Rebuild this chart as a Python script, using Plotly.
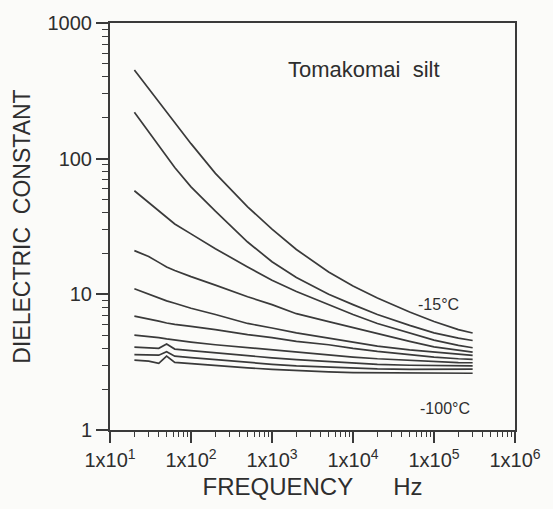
import plotly.graph_objects as go

# Frequencies (Hz) at which each curve is read
freq = [20, 30, 40, 50, 63, 100, 200, 500, 1e3, 2e3, 5e3, 1e4, 2e4, 5e4, 1e5, 2e5, 3e5]

# Dielectric constant curves, from -15 C (top) down to -100 C (bottom)
c1 = [451, 329, 262, 221, 185, 129, 78, 44.2, 30.2, 21.4, 14.6, 11.5, 9.4, 7.4, 6.3, 5.5, 5.19]
c2 = [220, 158, 125, 104, 86, 62, 41, 24.3, 17.4, 13.3, 10.0, 8.4, 7.1, 5.9, 5.2, 4.75, 4.57]
c3 = [58, 47.5, 41.3, 36.9, 33, 27.9, 21.7, 15.9, 12.7, 10.5, 8.4, 7.1, 6.1, 5.2, 4.6, 4.2, 4.04]
c4 = [21, 19, 17.2, 15.9, 15, 13.5, 11.7, 9.6, 8.4, 7.2, 6.3, 5.7, 5.1, 4.5, 4.1, 3.85, 3.75]
c5 = [11, 10, 9.4, 8.95, 8.6, 7.9, 7.1, 6.1, 5.65, 5.2, 4.75, 4.45, 4.15, 3.9, 3.75, 3.6, 3.55]
c6 = [6.9, 6.6, 6.35, 6.15, 6.0, 5.8, 5.5, 5.05, 4.8, 4.5, 4.25, 4.0, 3.8, 3.6, 3.45, 3.35, 3.32]
c7 = [5.0, 4.9, 4.8, 4.7, 4.6, 4.45, 4.25, 4.05, 3.9, 3.75, 3.55, 3.45, 3.35, 3.25, 3.18, 3.14, 3.13]
c8 = [4.08, 4.05, 4.0, 4.3, 3.95, 3.85, 3.7, 3.5, 3.4, 3.3, 3.2, 3.12, 3.05, 3.0, 2.98, 2.97, 2.97]
c9 = [3.6, 3.58, 3.56, 3.77, 3.5, 3.42, 3.3, 3.15, 3.05, 2.97, 2.9, 2.85, 2.82, 2.8, 2.8, 2.81, 2.81]
c10 = [3.27, 3.22, 3.1, 3.5, 3.15, 3.08, 2.98, 2.87, 2.8, 2.74, 2.68, 2.65, 2.64, 2.63, 2.62, 2.62, 2.62]
curves = [c1, c2, c3, c4, c5, c6, c7, c8, c9, c10]

x_tickvals = [1e1, 1e2, 1e3, 1e4, 1e5, 1e6]
x_ticktext = ["1x10<sup>1</sup>", "1x10<sup>2</sup>", "1x10<sup>3</sup>",
              "1x10<sup>4</sup>", "1x10<sup>5</sup>", "1x10<sup>6</sup>"]
y_tickvals = [1, 10, 100, 1000]
y_ticktext = ["1", "10", "100", "1000"]

ink = "#3a3a3a"
txt = "#2e2e2e"
font = "Liberation Sans, Arial, sans-serif"

fig = go.Figure()
for c in curves:
    fig.add_trace(go.Scatter(x=freq, y=c, mode="lines",
                             line=dict(color=ink, width=1.7),
                             showlegend=False, hoverinfo="skip"))

fig.update_layout(
    width=553, height=509,
    margin=dict(l=110, r=34, t=19, b=79),
    paper_bgcolor="#fbfbf9", plot_bgcolor="#fbfbf9",
    font=dict(family=font, color=txt),
    showlegend=False,
)

fig.update_xaxes(
    type="log", range=[1, 6],
    showgrid=False, zeroline=False,
    showline=True, linecolor=ink, linewidth=2, mirror=True,
    tickmode="array", tickvals=x_tickvals, ticktext=x_ticktext,
    ticks="outside", ticklen=11, tickwidth=1.6, tickcolor=ink,
    tickfont=dict(size=20, family=font, color=txt),
    minor=dict(dtick="D1", ticks="outside",
               ticklen=5, tickwidth=1.4, tickcolor=ink, showgrid=False),
    title=dict(text="FREQUENCY" + "\u00a0" * 6 + "Hz",
               font=dict(size=24, family=font, color=txt), standoff=8),
)

fig.update_yaxes(
    type="log", range=[0, 3],
    showgrid=False, zeroline=False,
    showline=True, linecolor=ink, linewidth=2, mirror=True,
    tickmode="array", tickvals=y_tickvals, ticktext=y_ticktext,
    ticks="outside", ticklen=12, tickwidth=1.6, tickcolor=ink,
    tickfont=dict(size=20, family=font, color=txt),
    minor=dict(dtick="D1", ticks="outside",
               ticklen=6, tickwidth=1.4, tickcolor=ink, showgrid=False),
    title=dict(text="DIELECTRIC\u00a0\u00a0CONSTANT",
               font=dict(size=23, family=font, color=txt), standoff=10),
)

fig.add_annotation(text="Tomakomai\u00a0\u00a0silt", xref="paper", yref="paper",
                   x=0.626, y=0.886, xanchor="center", yanchor="middle",
                   showarrow=False, font=dict(size=22, family=font, color=txt))
fig.add_annotation(text="-15°C", xref="paper", yref="paper",
                   x=0.812, y=0.309, xanchor="center", yanchor="middle",
                   showarrow=False, font=dict(size=16, family=font, color=txt))
fig.add_annotation(text="-100°C", xref="paper", yref="paper",
                   x=0.826, y=0.0535, xanchor="center", yanchor="middle",
                   showarrow=False, font=dict(size=16, family=font, color=txt))

fig.write_html("out.html")
